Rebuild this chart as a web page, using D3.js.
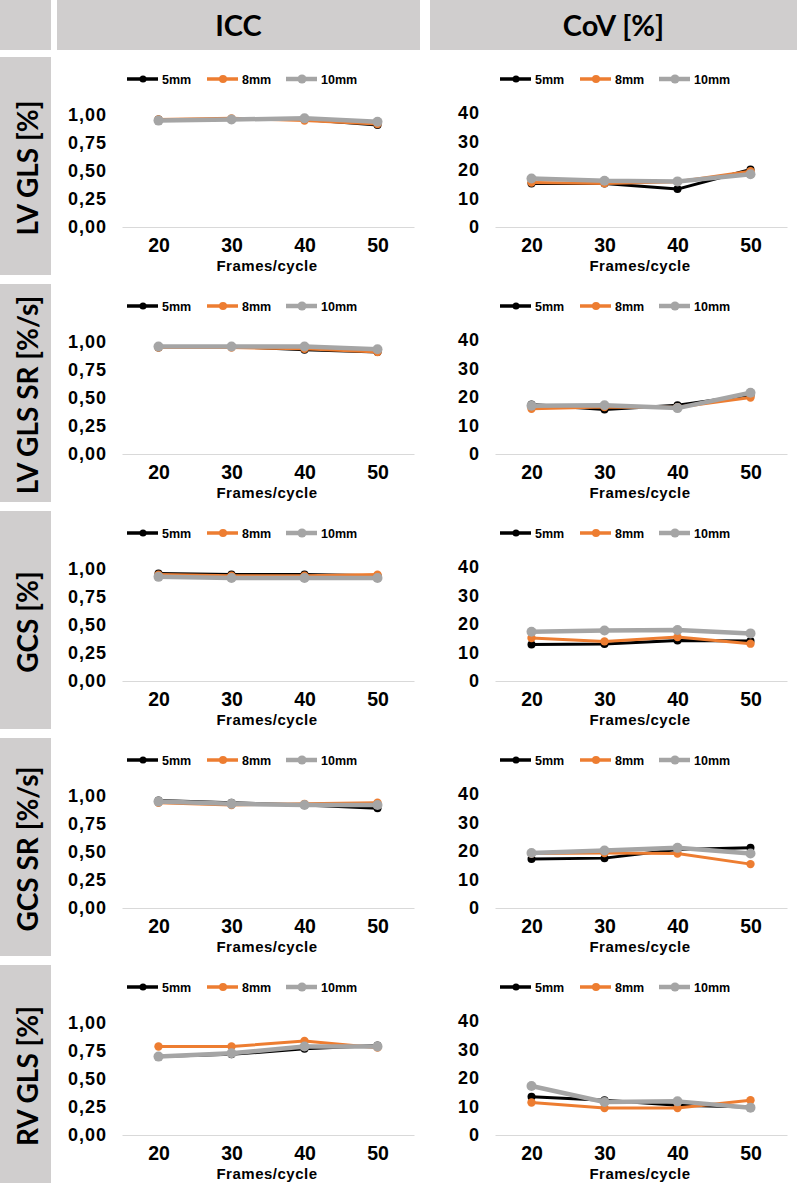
<!DOCTYPE html>
<html><head><meta charset="utf-8">
<script src="https://cdn.jsdelivr.net/npm/d3@7"></script>
<style>
html,body{margin:0;padding:0;background:#fff;}
svg{display:block;}
</style></head>
<body>
<svg id="chart" width="797" height="1186"></svg>
<script>
// ---- data ----
const frames = ["20", "30", "40", "50"];
const seriesNames = ["5mm", "8mm", "10mm"];
const seriesColors = ["#000000", "#ED7D31", "#A5A5A5"];
const rowLabels = ["LV GLS [%]", "LV GLS SR [%/s]", "GCS [%]", "GCS SR [%/s]", "RV GLS [%]"];
const colLabels = ["ICC", "CoV [%]"];
const iccTicks = [0, 0.25, 0.5, 0.75, 1];
const covTicks = [0, 10, 20, 30, 40];
const xTitle = "Frames/cycle";

// ICC values: [5mm, 8mm, 10mm] per metric
const iccLvGls   = [[0.96, 0.96, 0.96, 0.91], [0.96, 0.97, 0.95, 0.92], [0.95, 0.96, 0.97, 0.94]];
const iccLvGlsSr = [[0.95, 0.96, 0.93, 0.91], [0.95, 0.95, 0.94, 0.91], [0.96, 0.96, 0.96, 0.935]];
const iccGcs     = [[0.96, 0.95, 0.95, 0.94], [0.95, 0.94, 0.94, 0.95], [0.93, 0.92, 0.92, 0.92]];
const iccGcsSr   = [[0.96, 0.94, 0.92, 0.89], [0.94, 0.92, 0.93, 0.94], [0.95, 0.93, 0.92, 0.92]];
const iccRvGls   = [[0.70, 0.72, 0.77, 0.80], [0.79, 0.79, 0.84, 0.78], [0.70, 0.73, 0.79, 0.79]];

// CoV values [%]
const covLvGls   = [[15.3, 15.3, 13.3, 20.2], [15.6, 15.3, 15.9, 19.6], [17.0, 16.2, 16.0, 18.5]];
const covLvGlsSr = [[17.4, 15.6, 17.1, 20.7], [15.9, 16.5, 16.4, 19.8], [16.9, 17.1, 16.1, 21.5]];
const covGcs     = [[12.8, 13.0, 14.2, 14.0], [15.1, 13.9, 15.4, 13.1], [17.3, 17.7, 17.9, 16.7]];
const covGcsSr   = [[17.2, 17.5, 20.5, 21.1], [19.1, 19.3, 19.1, 15.4], [19.3, 20.2, 21.1, 19.1]];
const covRvGls   = [[13.4, 12.2, 10.4, 9.8], [11.4, 9.5, 9.5, 12.2], [17.2, 11.6, 11.8, 9.6]];

const iccData = [iccLvGls, iccLvGlsSr, iccGcs, iccGcsSr, iccRvGls];
const covData = [covLvGls, covLvGlsSr, covGcs, covGcsSr, covRvGls];

// ---- layout ----
const svg = d3.select("#chart");
const headFont = "Lato, 'Open Sans', sans-serif";
const chartFont = "'Liberation Sans', Arial, sans-serif";
const boxFill = "#d0cece";

// header boxes
svg.append("rect").attr("x", 0).attr("y", 0).attr("width", 51).attr("height", 50).attr("fill", boxFill);
const colBoxes = [[57, 420], [430, 797]];
colBoxes.forEach((b, i) => {
  svg.append("rect").attr("x", b[0]).attr("y", 0).attr("width", b[1] - b[0]).attr("height", 50).attr("fill", boxFill);
  svg.append("text").attr("x", (b[0] + b[1]) / 2).attr("y", 36)
    .attr("text-anchor", "middle").attr("font-family", headFont).attr("font-weight", 700)
    .attr("font-size", 29).attr("fill", "#000").text(colLabels[i]);
});

const rowPitch = 227;
const fmtIcc = v => d3.format(".2f")(v).replace(".", ",");
const fmtCov = d3.format("d");

rowLabels.forEach((lab, r) => {
  const top = 57 + r * rowPitch;
  svg.append("rect").attr("x", 0).attr("y", top).attr("width", 51).attr("height", 218).attr("fill", boxFill);
  svg.append("text")
    .attr("transform", `translate(38,${top + 111}) rotate(-90)`)
    .attr("text-anchor", "middle").attr("font-family", headFont).attr("font-weight", 700)
    .attr("font-size", 28).attr("fill", "#000").text(lab);

  const axisY = 227 + r * rowPitch;
  [0, 1].forEach(c => {
    const ox = c * 373;
    const x = d3.scalePoint().domain(frames).range([122 + ox, 414 + ox]).padding(0.5);
    const y = d3.scaleLinear()
      .domain(c === 0 ? [0, 1] : [0, 40])
      .range([axisY, c === 0 ? axisY - 112 : axisY - 114]);
    const g = svg.append("g");

    // x axis
    const xa = g.append("g").attr("transform", `translate(0,${axisY})`)
      .call(d3.axisBottom(x).tickSize(0).tickSizeOuter(0).tickPadding(11));
    xa.select(".domain").attr("stroke", "#d9d9d9").attr("stroke-width", 1.2);
    xa.selectAll("text").attr("font-family", chartFont).attr("font-weight", 700)
      .attr("font-size", 19.5).attr("fill", "#000");

    // y axis
    const ya = g.append("g").attr("transform", `translate(${122 + ox},0)`)
      .call(d3.axisLeft(y).tickValues(c === 0 ? iccTicks : covTicks)
        .tickFormat(c === 0 ? fmtIcc : fmtCov).tickSize(0).tickPadding(15));
    ya.select(".domain").remove();
    ya.selectAll("text").attr("font-family", chartFont).attr("font-weight", 700)
      .attr("font-size", 18).attr("letter-spacing", 1).attr("fill", "#000");

    // x title
    g.append("text").attr("x", 267 + ox).attr("y", axisY + 44)
      .attr("text-anchor", "middle").attr("font-family", chartFont).attr("font-weight", 700)
      .attr("font-size", 15).attr("letter-spacing", 0.5).attr("fill", "#000").text(xTitle);

    // legend
    const ly = axisY - 148;
    const legX = [127, 207, 286];
    const lineW = [3.5, 3.5, 4.5];
    const markR = [3.5, 4, 4.5];
    seriesNames.forEach((s, k) => {
      const lx = legX[k] + ox;
      g.append("line").attr("x1", lx).attr("x2", lx + 31).attr("y1", ly).attr("y2", ly)
        .attr("stroke", seriesColors[k]).attr("stroke-width", lineW[k]);
      g.append("circle").attr("cx", lx + 16).attr("cy", ly).attr("r", markR[k]).attr("fill", seriesColors[k]);
      g.append("text").attr("x", lx + 35).attr("y", ly + 4.5)
        .attr("font-family", chartFont).attr("font-weight", 700).attr("font-size", 12.5)
        .attr("fill", "#000").text(s);
    });

    // series
    const data = c === 0 ? iccData[r] : covData[r];
    const plotW = [3, 3, 4.5];
    const plotR = [4, 4.2, 5];
    data.forEach((vals, k) => {
      const pts = vals.map((v, i) => [x(frames[i]), y(v)]);
      g.append("path").attr("d", d3.line()(pts)).attr("fill", "none")
        .attr("stroke", seriesColors[k]).attr("stroke-width", plotW[k]).attr("stroke-linejoin", "round");
      g.selectAll(null).data(pts).enter().append("circle")
        .attr("cx", d => d[0]).attr("cy", d => d[1]).attr("r", plotR[k]).attr("fill", seriesColors[k]);
    });
  });
});
</script>
</body></html>
